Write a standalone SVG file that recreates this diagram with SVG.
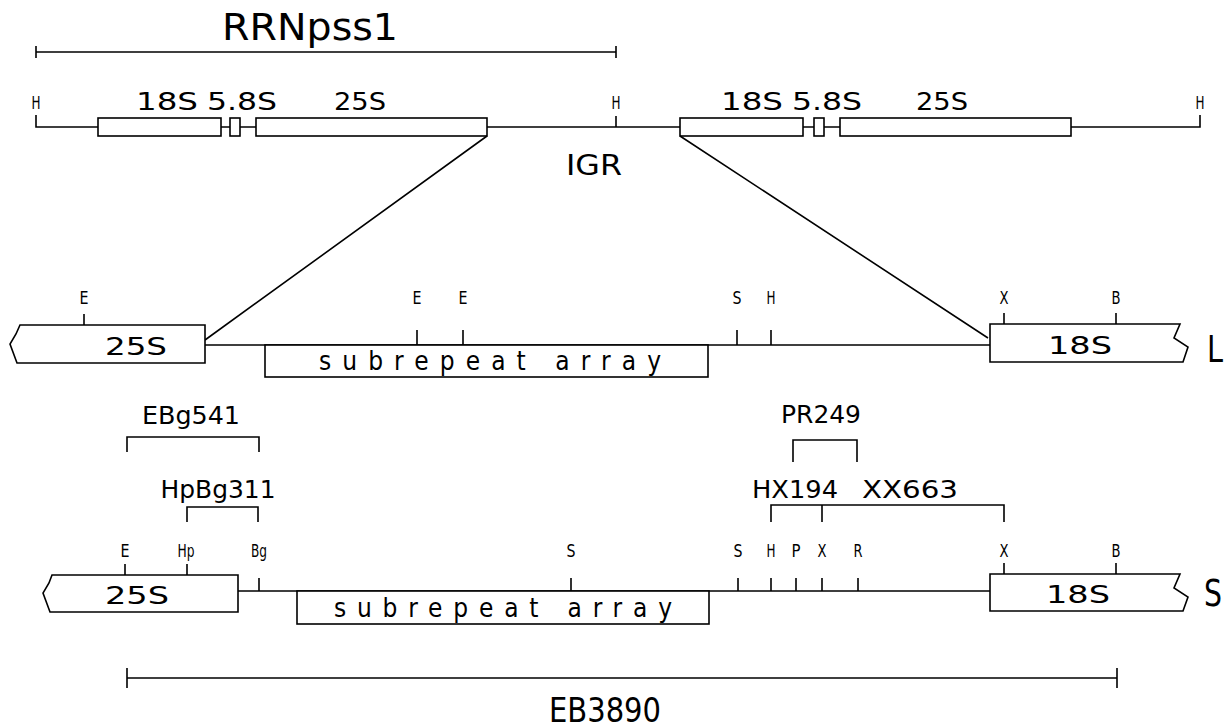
<svg xmlns="http://www.w3.org/2000/svg" width="1224" height="728" viewBox="0 0 1224 728">
<style>
.ln{stroke:#000;stroke-width:1.6;fill:none}
.bx{stroke:#000;stroke-width:1.6;fill:#fff}
text{font-family:"DejaVu Sans Condensed","DejaVu Sans","Liberation Sans",sans-serif;fill:#000}
.s{font-size:17px;text-anchor:middle}
.m{font-size:24px;text-anchor:middle}
.b{font-size:38px;text-anchor:middle}
</style>
<rect width="1224" height="728" fill="#fff"/>
<g id="rrnpss1">
<text class="b" x="310" y="40" textLength="176" lengthAdjust="spacingAndGlyphs">RRNpss1</text>
<path class="ln" d="M36,52H616M36,46V58M616,46V58"/>
</g>
<g id="top-map">
<path class="ln" d="M36,115V127H98M221,127H230M240,127H256M487,127H680M616,116V127M803,127H814M824,127H840M1071,127H1200V115"/>
<rect class="bx" x="98" y="118" width="123" height="18"/>
<rect class="bx" x="230" y="118" width="10" height="18"/>
<rect class="bx" x="256" y="118" width="231" height="18"/>
<rect class="bx" x="680" y="118" width="123" height="18"/>
<rect class="bx" x="814" y="118" width="10" height="18"/>
<rect class="bx" x="840" y="118" width="231" height="18"/>
<text class="s" x="36" y="109" textLength="9" lengthAdjust="spacingAndGlyphs">H</text>
<text class="s" x="616" y="109" textLength="9" lengthAdjust="spacingAndGlyphs">H</text>
<text class="s" x="1200" y="109" textLength="9" lengthAdjust="spacingAndGlyphs">H</text>
<text class="m" x="167" y="110" textLength="62" lengthAdjust="spacingAndGlyphs">18S</text>
<text class="m" x="242" y="110" textLength="70" lengthAdjust="spacingAndGlyphs">5.8S</text>
<text class="m" x="360" y="110" textLength="52" lengthAdjust="spacingAndGlyphs">25S</text>
<text class="m" x="752" y="110" textLength="62" lengthAdjust="spacingAndGlyphs">18S</text>
<text class="m" x="827" y="110" textLength="70" lengthAdjust="spacingAndGlyphs">5.8S</text>
<text class="m" x="942" y="110" textLength="52" lengthAdjust="spacingAndGlyphs">25S</text>
<text class="m" x="594" y="175" style="font-size:29px" textLength="56" lengthAdjust="spacingAndGlyphs">IGR</text>
</g>
<g id="connectors">
<path class="ln" d="M487,136L205,340M680,136L988,338"/>
</g>
<g id="map-L">
<path class="ln" d="M205,345H990M84,314V325M417,330V345M463,330V345M737,330V345M771,330V345M1004,313V324M1116,313V324"/>
<path class="bx" d="M20,325H205V363H17L10,344L16,334Z"/>
<rect class="bx" x="265" y="345" width="443" height="32"/>
<path class="bx" d="M990,324H1180L1174,338L1188,347L1183,362H990Z"/>
<text class="s" x="84" y="304" textLength="9" lengthAdjust="spacingAndGlyphs">E</text>
<text class="s" x="417" y="304" textLength="9" lengthAdjust="spacingAndGlyphs">E</text>
<text class="s" x="463" y="304" textLength="9" lengthAdjust="spacingAndGlyphs">E</text>
<text class="s" x="737" y="304" textLength="9" lengthAdjust="spacingAndGlyphs">S</text>
<text class="s" x="771" y="304" textLength="9" lengthAdjust="spacingAndGlyphs">H</text>
<text class="s" x="1004" y="304" textLength="9" lengthAdjust="spacingAndGlyphs">X</text>
<text class="s" x="1116" y="304" textLength="9" lengthAdjust="spacingAndGlyphs">B</text>
<text class="m" x="136" y="355" textLength="62" lengthAdjust="spacingAndGlyphs">25S</text>
<text class="m" x="490" y="370" style="font-size:26px" textLength="342" lengthAdjust="spacing">subrepeat array</text>
<text class="m" x="1080" y="354" textLength="64" lengthAdjust="spacingAndGlyphs">18S</text>
<text x="1207" y="362" style="font-size:38px" textLength="16" lengthAdjust="spacingAndGlyphs">L</text>
</g>
<g id="probes">
<path class="ln" d="M127,452V437H259V452M187,522V507H258V522M793,462V440H857V462M771,522V505H1004V522M822,505V522"/>
<text class="m" x="191" y="424" textLength="98" lengthAdjust="spacingAndGlyphs">EBg541</text>
<text class="m" x="218" y="498" textLength="115" lengthAdjust="spacingAndGlyphs">HpBg311</text>
<text class="m" x="821" y="423" textLength="80" lengthAdjust="spacingAndGlyphs">PR249</text>
<text class="m" x="795" y="498" textLength="86" lengthAdjust="spacingAndGlyphs">HX194</text>
<text class="m" x="910" y="498" textLength="96" lengthAdjust="spacingAndGlyphs">XX663</text>
</g>
<g id="map-S">
<path class="ln" d="M238,591H990M125,564V575M187,564V575M259,578V591M571,578V591M738,578V591M771,578V591M796,578V591M822,578V591M858,578V591M1004,563V574M1116,563V574"/>
<path class="bx" d="M52,575H238V612H50L43,593L49,583Z"/>
<rect class="bx" x="297" y="591" width="412" height="33"/>
<path class="bx" d="M990,574H1180L1174,588L1188,597L1183,611H990Z"/>
<text class="s" x="125" y="557" textLength="9" lengthAdjust="spacingAndGlyphs">E</text>
<text class="s" x="186" y="557" textLength="17" lengthAdjust="spacingAndGlyphs">Hp</text>
<text class="s" x="259" y="557" textLength="16" lengthAdjust="spacingAndGlyphs">Bg</text>
<text class="s" x="571" y="557" textLength="9" lengthAdjust="spacingAndGlyphs">S</text>
<text class="s" x="738" y="557" textLength="9" lengthAdjust="spacingAndGlyphs">S</text>
<text class="s" x="771" y="557" textLength="9" lengthAdjust="spacingAndGlyphs">H</text>
<text class="s" x="796" y="557" textLength="9" lengthAdjust="spacingAndGlyphs">P</text>
<text class="s" x="822" y="557" textLength="9" lengthAdjust="spacingAndGlyphs">X</text>
<text class="s" x="858" y="557" textLength="9" lengthAdjust="spacingAndGlyphs">R</text>
<text class="s" x="1004" y="557" textLength="9" lengthAdjust="spacingAndGlyphs">X</text>
<text class="s" x="1116" y="557" textLength="9" lengthAdjust="spacingAndGlyphs">B</text>
<text class="m" x="137" y="604" textLength="64" lengthAdjust="spacingAndGlyphs">25S</text>
<text class="m" x="503" y="617" style="font-size:26px" textLength="338" lengthAdjust="spacing">subrepeat array</text>
<text class="m" x="1078" y="603" textLength="64" lengthAdjust="spacingAndGlyphs">18S</text>
<text x="1204" y="606" style="font-size:38px" textLength="18" lengthAdjust="spacingAndGlyphs">S</text>
</g>
<g id="eb3890">
<path class="ln" d="M127,678H1117M127,668V688M1117,668V688"/>
<text class="b" x="605" y="722" style="font-size:34px" textLength="112" lengthAdjust="spacingAndGlyphs">EB3890</text>
</g>
</svg>
